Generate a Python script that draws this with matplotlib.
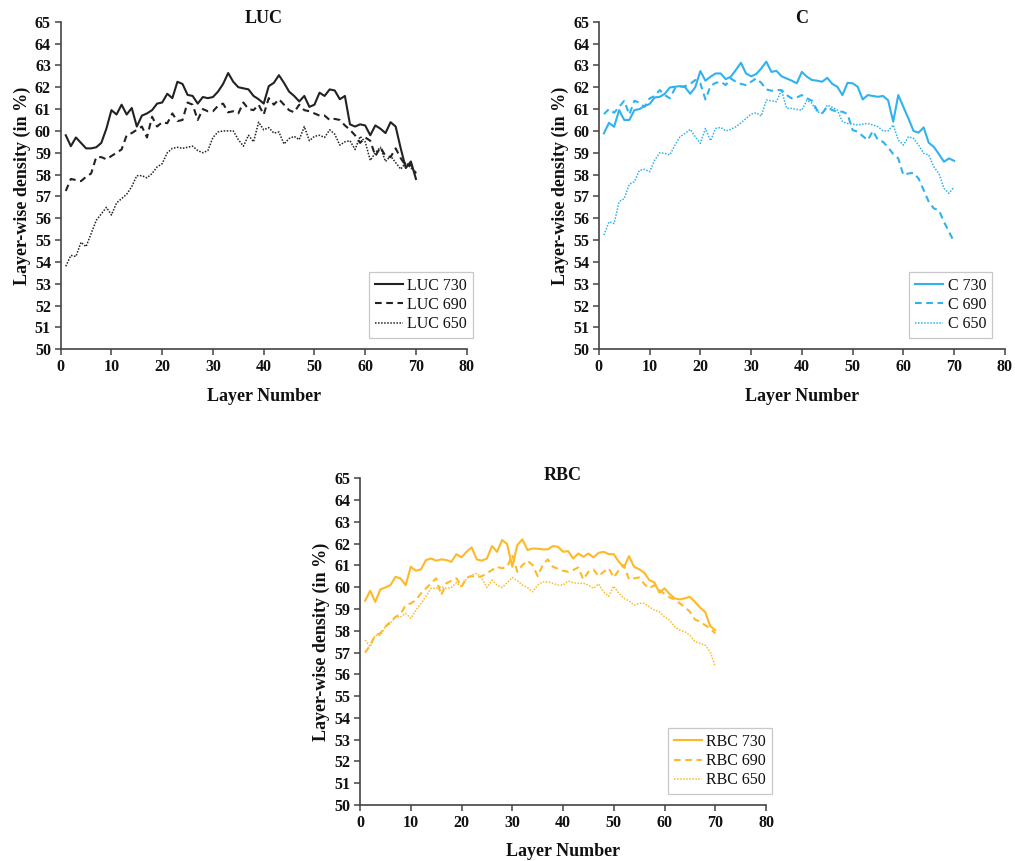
#!/usr/bin/env python3
"""Layer-wise density curves for LUC, C and RBC at three wavelengths."""

import matplotlib.pyplot as plt
import numpy as np

LAYERS = np.arange(1, 71)

LUC_730 = [59.8, 59.3, 59.7, 59.45, 59.2, 59.2, 59.25, 59.45, 60.1, 60.95,
           60.75, 61.2, 60.75, 61.05, 60.2, 60.7, 60.8, 60.95, 61.25, 61.3,
           61.7, 61.5, 62.25, 62.15, 61.65, 61.6, 61.25, 61.55, 61.5, 61.55,
           61.8, 62.15, 62.65, 62.25, 62.0, 61.95, 61.9, 61.6, 61.45, 61.25,
           62.05, 62.2, 62.55, 62.2, 61.8, 61.6, 61.35, 61.6, 61.1, 61.2,
           61.75, 61.6, 61.9, 61.85, 61.45, 61.6, 60.3, 60.2, 60.3, 60.25,
           59.8, 60.25, 60.1, 59.9, 60.4, 60.2, 59.2, 58.3, 58.6, 57.8]
LUC_690 = [57.25, 57.8, 57.75, 57.7, 57.9, 58.05, 58.8, 58.8, 58.7, 58.85,
           59.0, 59.15, 59.8, 59.9, 60.05, 60.2, 59.7, 60.65, 60.2, 60.4,
           60.35, 60.8, 60.45, 60.5, 61.3, 61.2, 60.5, 61.0, 60.9, 60.9,
           61.15, 61.25, 60.85, 60.9, 60.8, 61.3, 61.0, 60.95, 61.2, 60.75,
           61.5, 61.2, 61.45, 61.2, 60.95, 60.85, 61.2, 60.95, 60.9, 60.8,
           60.7, 60.7, 60.5, 60.55, 60.5, 60.25, 60.05, 59.8, 59.45, 59.7,
           59.55, 58.85, 59.25, 58.85, 58.8, 59.2, 58.75, 58.4, 58.45, 58.05]
LUC_650 = [53.8, 54.3, 54.25, 54.9, 54.7, 55.3, 55.9, 56.2, 56.5, 56.15,
           56.7, 56.9, 57.1, 57.45, 57.95, 57.95, 57.85, 58.05, 58.35, 58.5,
           59.0, 59.2, 59.25, 59.2, 59.25, 59.3, 59.1, 59.0, 59.1, 59.7,
           59.95, 60.0, 60.0, 60.0, 59.6, 59.3, 59.8, 59.5, 60.4, 60.05,
           60.15, 59.9, 59.95, 59.4, 59.65, 59.75, 59.6, 60.2, 59.55, 59.75,
           59.8, 59.7, 60.05, 59.85, 59.35, 59.5, 59.55, 59.15, 59.75, 59.5,
           58.65, 59.0, 59.25, 58.6, 58.85, 58.55, 58.25, 58.55, 58.3, 58.1]

C_730 = [59.89, 60.37, 60.19, 60.95, 60.5, 60.5, 60.95, 61.0, 61.14, 61.23,
         61.53, 61.56, 61.7, 61.99, 62.02, 62.05, 62.0, 61.7, 62.0, 62.74,
         62.3, 62.48, 62.63, 62.63, 62.37, 62.48, 62.79, 63.12, 62.63, 62.5,
         62.6, 62.86, 63.17, 62.7, 62.75, 62.5, 62.4, 62.3, 62.18, 62.7,
         62.48, 62.33, 62.3, 62.25, 62.43, 62.15, 62.02, 61.64, 62.2, 62.18,
         62.02, 61.44, 61.64, 61.6, 61.56, 61.6, 61.4, 60.42, 61.64, 61.1,
         60.57, 60.0, 59.92, 60.16, 59.46, 59.27, 58.94, 58.59, 58.74, 58.63]
C_690 = [60.77, 61.0, 60.83, 61.1, 61.38, 60.75, 61.38, 61.29, 61.1, 61.49,
         61.6, 61.87, 61.64, 61.49, 61.95, 62.02, 62.05, 62.15, 62.33, 62.18,
         61.44, 62.05, 62.2, 62.25, 62.1, 62.4, 62.25, 62.15, 62.1, 62.25,
         62.4, 62.2, 61.9, 61.84, 61.87, 61.87, 61.64, 61.49, 61.53, 61.64,
         61.49, 61.38, 60.95, 60.8, 61.1, 60.95, 60.88, 60.88, 60.77, 60.04,
         59.96, 59.76, 59.58, 60.0, 59.58, 59.5, 59.24, 58.94, 58.74, 57.98,
         58.05, 58.08, 57.82, 57.29, 56.76, 56.45, 56.37, 55.84, 55.38, 54.92]
C_650 = [55.23, 55.84, 55.76, 56.76, 56.9, 57.56, 57.67, 58.2, 58.24, 58.13,
         58.66, 59.0, 58.97, 58.9, 59.35, 59.73, 59.89, 60.07, 59.73, 59.43,
         60.11, 59.55, 60.11, 60.16, 60.0, 60.07, 60.19, 60.37, 60.57, 60.77,
         60.83, 60.68, 61.41, 61.38, 61.34, 61.87, 61.03, 61.03, 60.98, 60.95,
         61.41, 61.26, 60.88, 60.8, 61.18, 61.08, 60.95, 60.42, 60.34, 60.31,
         60.27, 60.31, 60.34, 60.27, 60.19, 60.0, 60.0, 60.27, 59.58, 59.35,
         59.73, 59.66, 59.35, 58.97, 58.9, 58.36, 58.05, 57.37, 57.14, 57.44]

RBC_730 = [59.38, 59.84, 59.33, 59.9, 59.99, 60.1, 60.48, 60.4, 60.1, 60.94,
           60.76, 60.82, 61.25, 61.32, 61.22, 61.28, 61.25, 61.17, 61.52, 61.37,
           61.63, 61.83, 61.28, 61.22, 61.32, 61.89, 61.63, 62.17, 61.98, 60.94,
           61.94, 62.2, 61.71, 61.78, 61.77, 61.74, 61.74, 61.89, 61.86, 61.63,
           61.66, 61.32, 61.55, 61.4, 61.55, 61.37, 61.58, 61.63, 61.52, 61.52,
           61.17, 60.91, 61.43, 60.94, 60.83, 60.67, 60.33, 60.22, 59.75, 59.95,
           59.69, 59.49, 59.44, 59.49, 59.56, 59.33, 59.07, 58.87, 58.22, 58.03]
RBC_690 = [56.99, 57.34, 57.8, 57.88, 58.19, 58.42, 58.64, 58.77, 59.18, 59.26,
           59.41, 59.72, 59.95, 60.18, 60.41, 59.64, 60.18, 60.3, 60.41, 60.02,
           60.45, 60.51, 60.45, 60.51, 60.64, 60.79, 60.94, 60.87, 60.94, 61.48,
           60.71, 61.02, 61.22, 61.02, 60.51, 61.02, 61.28, 60.94, 60.85, 60.76,
           60.71, 60.79, 60.91, 60.36, 60.71, 60.82, 60.51, 60.71, 60.87, 60.45,
           60.79, 61.02, 60.36, 60.41, 60.45, 60.15, 59.95, 60.1, 59.87, 59.69,
           59.53, 59.44, 59.26, 59.1, 58.87, 58.52, 58.42, 58.26, 58.11, 57.88]
RBC_650 = [57.57, 57.27, 57.8, 57.8, 58.19, 58.34, 58.64, 58.64, 58.8, 58.57,
           58.95, 59.26, 59.59, 59.95, 59.95, 60.02, 59.95, 59.99, 60.21, 60.02,
           60.41, 60.56, 60.64, 60.41, 59.99, 60.33, 60.1, 59.99, 60.21, 60.45,
           60.3, 60.1, 59.99, 59.79, 60.1, 60.25, 60.25, 60.18, 60.1, 60.1,
           60.28, 60.21, 60.18, 60.18, 60.1, 59.95, 60.15, 59.79, 59.59, 60.05,
           59.72, 59.49, 59.38, 59.18, 59.26, 59.26, 59.1, 58.95, 58.87, 58.64,
           58.49, 58.19, 58.03, 57.96, 57.8, 57.5, 57.42, 57.34, 57.04, 56.35]

WAVELENGTHS = ["730", "690", "650"]

INK = "#111111"
SPINE = "#444444"
LUC_COLOR = "#222222"
C_COLOR = "#2fb2ef"
RBC_COLOR = "#fdb927"

SOLID = "-"
DASHED = (0, (3.2, 2.2))
DOTTED = (0, (1.0, 1.0))


def draw_panel(ax, name, series, color, legend_anchor):
    styles = [(SOLID, 1.5), (DASHED, 1.5), (DOTTED, 1.1)]
    for values, wl, (ls, lw) in zip(series, WAVELENGTHS, styles):
        ax.plot(LAYERS, values, color=color, linestyle=ls, linewidth=lw,
                label=f"{name} {wl}")

    ax.set_xlim(0, 80)
    ax.set_ylim(50, 65)
    ax.set_xticks(np.arange(0, 81, 10))
    ax.set_yticks(np.arange(50, 66, 1))
    for side in ("top", "right"):
        ax.spines[side].set_visible(False)
    for side in ("left", "bottom"):
        ax.spines[side].set_color(SPINE)
        ax.spines[side].set_linewidth(1.2)
    ax.tick_params(axis="both", direction="out", length=4, width=1.1,
                   color=SPINE, labelsize=11.5, pad=3)
    for lab in ax.get_xticklabels() + ax.get_yticklabels():
        lab.set_fontweight("bold")

    ax.set_xlabel("Layer Number", fontsize=13, fontweight="bold", labelpad=9)
    ax.set_ylabel("Layer-wise density (in %)", fontsize=13, fontweight="bold",
                  labelpad=3)
    ax.text(0.5, 1.01, name, transform=ax.transAxes, ha="center", va="center",
            fontsize=13, fontweight="bold", color=INK)

    leg = ax.legend(loc="lower right", bbox_to_anchor=legend_anchor,
                    fontsize=11.5, frameon=True, fancybox=False,
                    handlelength=1.75, handletextpad=0.3, borderpad=0.35,
                    labelspacing=0.2, borderaxespad=0.0)
    leg.get_frame().set_edgecolor("#bbbbbb")
    leg.get_frame().set_linewidth(0.9)


def main():
    plt.rcParams.update({
        "font.family": ["Liberation Serif", "DejaVu Serif"],
        "text.color": INK,
        "axes.labelcolor": INK,
        "xtick.color": INK,
        "ytick.color": INK,
    })

    fig = plt.figure(figsize=(10.15, 8.61), dpi=100)
    ax_luc = fig.add_axes([0.0598, 0.5943, 0.400, 0.3805])
    ax_c = fig.add_axes([0.590, 0.5943, 0.400, 0.3805])
    ax_rbc = fig.add_axes([0.3547, 0.0650, 0.400, 0.3794])

    draw_panel(ax_luc, "LUC", [LUC_730, LUC_690, LUC_650], LUC_COLOR,
               (1.015, 0.035))
    draw_panel(ax_c, "C", [C_730, C_690, C_650], C_COLOR, (0.968, 0.035))
    draw_panel(ax_rbc, "RBC", [RBC_730, RBC_690, RBC_650], RBC_COLOR,
               (1.014, 0.034))

    fig.savefig("out.png", dpi=100)
    plt.close(fig)


if __name__ == "__main__":
    main()
